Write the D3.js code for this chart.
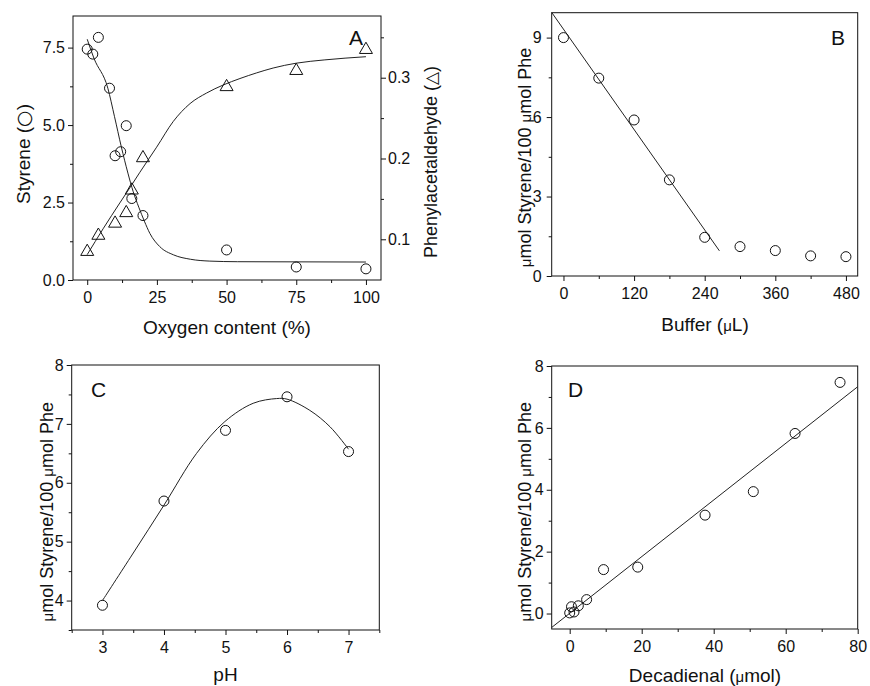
<!DOCTYPE html>
<html><head><meta charset="utf-8">
<script src="https://cdn.jsdelivr.net/npm/d3@7"></script>
<style>
body{margin:0;background:#fff}
svg{display:block}
text{font-family:"Liberation Sans",Arial,Helvetica,sans-serif;fill:#111}
</style>
</head><body>
<svg id="chart" width="870" height="686"></svg>
<script>
// ---------- Panel A ----------
const oxygenCircleX = [0, 2, 4, 8, 10, 12, 14, 16, 20, 50, 75, 100];
const styreneA      = [7.45, 7.29, 7.83, 6.19, 4.01, 4.14, 4.98, 2.63, 2.08, 0.97, 0.42, 0.36];
const oxygenTriX    = [0, 4, 10, 14, 16, 20, 50, 75, 100];
const phenylA       = [0.087, 0.107, 0.122, 0.135, 0.163, 0.203, 0.291, 0.311, 0.337];
const fitStyreneAX  = [0, 2.4, 7.4, 9.8, 12.2, 14.6, 16.5, 18.5, 20.5, 22.5, 26, 31, 37, 44, 54, 100];
const fitStyreneAY  = [7.77, 7.16, 6.19, 5.27, 4.31, 3.45, 2.85, 2.35, 1.9, 1.5, 1.08, 0.81, 0.67, 0.61, 0.59, 0.58];
const fitPhenylAX   = [0, 5.7, 11.7, 15.9, 18.9, 21.8, 24.9, 30.9, 36.9, 42.8, 48.8, 54.8, 60.8, 66.7, 75, 85, 100];
const fitPhenylAY   = [0.081, 0.113, 0.145, 0.167, 0.183, 0.198, 0.214, 0.246, 0.268, 0.281, 0.291, 0.299, 0.306, 0.312, 0.318, 0.322, 0.326];
const ticksAX = [0, 25, 50, 75, 100];
const ticksAXMinor = [12.5, 37.5, 62.5, 87.5];
const ticksAYL = [0, 2.5, 5, 7.5];
const ticksAYLMinor = [1.25, 3.75, 6.25];
const ticksAYR = [0.1, 0.2, 0.3];
const ticksAYRMinor = [0.15, 0.25, 0.35];

// ---------- Panel B ----------
const bufferX  = [0, 60, 120, 180, 240, 300, 360, 420, 480];
const styreneB = [9.0, 7.47, 5.89, 3.63, 1.46, 1.11, 0.96, 0.76, 0.73];
const fitBX = [-20, 265];
const fitBY = [9.95, 0.95];
const ticksBX = [0, 120, 240, 360, 480];
const ticksBXMinor = [60, 180, 300, 420];
const ticksBY = [0, 3, 6, 9];
const ticksBYMinor = [1.5, 4.5, 7.5];

// ---------- Panel C ----------
const pHX      = [3, 4, 5, 6, 7];
const styreneC = [3.92, 5.69, 6.89, 7.46, 6.53];
const fitCX = [3, 3.49, 4.0, 4.53, 4.99, 5.45, 5.83, 6.0, 6.37, 6.7, 7.0];
const fitCY = [4.0, 4.79, 5.62, 6.5, 7.04, 7.35, 7.43, 7.42, 7.23, 6.95, 6.57];
const ticksCX = [3, 4, 5, 6, 7];
const ticksCXMinor = [2.5, 3.5, 4.5, 5.5, 6.5, 7.5];
const ticksCY = [4, 5, 6, 7, 8];
const ticksCYMinor = [3.5, 4.5, 5.5, 6.5, 7.5];

// ---------- Panel D ----------
const decadienalX = [0, 0.5, 1.2, 2.4, 4.7, 9.4, 18.9, 37.6, 51, 62.6, 75.1];
const styreneD    = [0.02, 0.22, 0.05, 0.25, 0.45, 1.42, 1.5, 3.18, 3.94, 5.82, 7.47];
const fitDX = [-5, 80];
const fitDY = [-0.45, 7.33];
const ticksDX = [0, 20, 40, 60, 80];
const ticksDXMinor = [10, 30, 50, 70];
const ticksDY = [0, 2, 4, 6, 8];
const ticksDYMinor = [1, 3, 5, 7];

const svg = d3.select("#chart");
svg.append("rect").attr("width", 870).attr("height", 686).attr("fill", "#fff");

const FONT = '"Liberation Sans",Arial,Helvetica,sans-serif';

function styleAxis(sel) {
  sel.select(".domain").remove();
  sel.attr("font-size", 16).attr("font-family", FONT);
  sel.selectAll(".tick line").attr("stroke", "#111");
  sel.selectAll(".tick text").attr("fill", "#111");
}

function panel(cfg) {
  const g = svg.append("g");
  const x = d3.scaleLinear().domain(cfg.xDom).range([cfg.left, cfg.right]);
  const y = d3.scaleLinear().domain(cfg.yDom).range([cfg.bottom, cfg.top]);

  const bx = g.append("g").attr("transform", `translate(0,${cfg.bottom})`);
  bx.call(d3.axisBottom(x).tickValues(cfg.xMajor).tickSize(5).tickPadding(7).tickFormat(cfg.xFmt)).call(styleAxis);
  const bxm = g.append("g").attr("transform", `translate(0,${cfg.bottom})`);
  bxm.call(d3.axisBottom(x).tickValues(cfg.xMinor).tickSize(3).tickFormat("")).call(styleAxis);

  const ly = g.append("g").attr("transform", `translate(${cfg.left},0)`);
  ly.call(d3.axisLeft(y).tickValues(cfg.yMajor).tickSize(5).tickPadding(cfg.yPad || 3).tickFormat(cfg.yFmt)).call(styleAxis);
  const lym = g.append("g").attr("transform", `translate(${cfg.left},0)`);
  lym.call(d3.axisLeft(y).tickValues(cfg.yMinor).tickSize(3).tickFormat("")).call(styleAxis);

  g.append("rect")
    .attr("x", cfg.left).attr("y", cfg.top)
    .attr("width", cfg.right - cfg.left).attr("height", cfg.bottom - cfg.top)
    .attr("fill", "none").attr("stroke", "#111").attr("stroke-width", 1);

  return { g, x, y };
}

function circles(p, xs, ys) {
  p.g.append("g").selectAll("circle").data(d3.zip(xs, ys)).join("circle")
    .attr("cx", d => p.x(d[0])).attr("cy", d => p.y(d[1]))
    .attr("r", 5).attr("fill", "none").attr("stroke", "#111").attr("stroke-width", 1);
}

function fitLine(p, xs, ys, yScale, curve) {
  const ys2 = yScale || p.y;
  const line = d3.line().x(d => p.x(d[0])).y(d => ys2(d[1])).curve(curve || d3.curveLinear);
  p.g.append("path").datum(d3.zip(xs, ys)).attr("d", line)
    .attr("fill", "none").attr("stroke", "#222").attr("stroke-width", 1);
}

function letter(p, txt, x, y) {
  p.g.append("text").attr("x", x).attr("y", y).attr("font-size", 21).attr("text-anchor", "start").text(txt);
}

function addParts(t, parts) {
  parts.forEach(pt => {
    const s = t.append("tspan").text(pt.t);
    if (pt.mu) s.attr("font-size", 15);
    if (pt.sym) s.attr("font-family", '"DejaVu Sans",sans-serif').attr("font-size", pt.size || 16);
  });
}
function xTitle(parts, x, y) {
  const t = svg.append("text").attr("x", x).attr("y", y).attr("text-anchor", "middle").attr("font-size", 19);
  addParts(t, parts);
}
function yTitle(parts, x, y, fs) {
  const t = svg.append("text").attr("transform", `translate(${x},${y}) rotate(-90)`)
    .attr("text-anchor", "middle").attr("font-size", fs || 18);
  addParts(t, parts);
}

const f1 = d3.format(".1f");
const f0 = d3.format("d");

// ----- A -----
const pA = panel({
  left: 73, right: 381, top: 16, bottom: 280,
  xDom: [-5.1, 105.4], yDom: [0, 8.52],
  xMajor: ticksAX, xMinor: ticksAXMinor, yMajor: ticksAYL, yMinor: ticksAYLMinor,
  xFmt: f0, yFmt: f1
});
const yAR = d3.scaleLinear().domain([0.0496, 0.3764]).range([280, 16]);
const ra = pA.g.append("g").attr("transform", "translate(381,0)");
ra.call(d3.axisRight(yAR).tickValues(ticksAYR).tickSize(5).tickPadding(2).tickFormat(f1)).call(styleAxis);
const ram = pA.g.append("g").attr("transform", "translate(381,0)");
ram.call(d3.axisRight(yAR).tickValues(ticksAYRMinor).tickSize(3).tickFormat("")).call(styleAxis);

fitLine(pA, fitStyreneAX, fitStyreneAY, null, d3.curveMonotoneX);
fitLine(pA, fitPhenylAX, fitPhenylAY, yAR, d3.curveMonotoneX);
circles(pA, oxygenCircleX, styreneA);
const triW = 13;
const triType = {
  draw(ctx, size) {
    const w = Math.sqrt(size * 4 / Math.sqrt(3));
    const h = w * Math.sqrt(3) / 2;
    ctx.moveTo(0, -h / 2); ctx.lineTo(w / 2, h / 2); ctx.lineTo(-w / 2, h / 2); ctx.closePath();
  }
};
pA.g.append("g").selectAll("path").data(d3.zip(oxygenTriX, phenylA)).join("path")
  .attr("transform", d => `translate(${pA.x(d[0])},${yAR(d[1])})`)
  .attr("d", d3.symbol(triType, Math.sqrt(3) / 4 * triW * triW))
  .attr("fill", "none").attr("stroke", "#111").attr("stroke-width", 1);
pA.g.append("text").attr("x", 363).attr("y", 45).attr("font-size", 21).attr("text-anchor", "end").text("A");
xTitle([{ t: "Oxygen content (%)" }], 227, 333.5);
yTitle([{ t: "Styrene (" }, { t: "\u25CB", sym: true, size: 19 }, { t: ")" }], 29.5, 154, 19);
yTitle([{ t: "Phenylacetaldehyde (" }, { t: "\u25B3", sym: true, size: 17 }, { t: ")" }], 437, 162);

// ----- B -----
const pB = panel({
  left: 551.7, right: 857.7, top: 12.7, bottom: 276,
  xDom: [-20, 500], yDom: [0, 9.94],
  xMajor: ticksBX, xMinor: ticksBXMinor, yMajor: ticksBY, yMinor: ticksBYMinor,
  xFmt: f0, yFmt: f0, yPad: 5
});
fitLine(pB, fitBX, fitBY);
circles(pB, bufferX, styreneB);
pB.g.append("text").attr("x", 845).attr("y", 45).attr("font-size", 21).attr("text-anchor", "end").text("B");
xTitle([{ t: "Buffer (" }, { t: "\u03BC", mu: true }, { t: "L)" }], 705, 331);
yTitle([{ t: "\u03BC", mu: true }, { t: "mol Styrene/100 " }, { t: "\u03BC", mu: true }, { t: "mol Phe" }], 531, 157.5);

// ----- C -----
const pC = panel({
  left: 71.7, right: 379.3, top: 365, bottom: 630,
  xDom: [2.5, 7.5], yDom: [3.5, 8],
  xMajor: ticksCX, xMinor: ticksCXMinor, yMajor: ticksCY, yMinor: ticksCYMinor,
  xFmt: f0, yFmt: f0
});
fitLine(pC, fitCX, fitCY, null, d3.curveCatmullRom);
circles(pC, pHX, styreneC);
letter(pC, "C", 91, 397);
xTitle([{ t: "pH" }], 225.5, 681);
yTitle([{ t: "\u03BC", mu: true }, { t: "mol Styrene/100 " }, { t: "\u03BC", mu: true }, { t: "mol Phe" }], 52.7, 511.7);

// ----- D -----
const pD = panel({
  left: 551.7, right: 857.7, top: 366, bottom: 629,
  xDom: [-5, 80], yDom: [-0.5, 8],
  xMajor: ticksDX, xMinor: ticksDXMinor, yMajor: ticksDY, yMinor: ticksDYMinor,
  xFmt: f0, yFmt: f0
});
fitLine(pD, fitDX, fitDY);
circles(pD, decadienalX, styreneD);
letter(pD, "D", 568, 397);
xTitle([{ t: "Decadienal (" }, { t: "\u03BC", mu: true }, { t: "mol)" }], 705, 681.5);
yTitle([{ t: "\u03BC", mu: true }, { t: "mol Styrene/100 " }, { t: "\u03BC", mu: true }, { t: "mol Phe" }], 531, 511.7);
</script>
</body></html>
